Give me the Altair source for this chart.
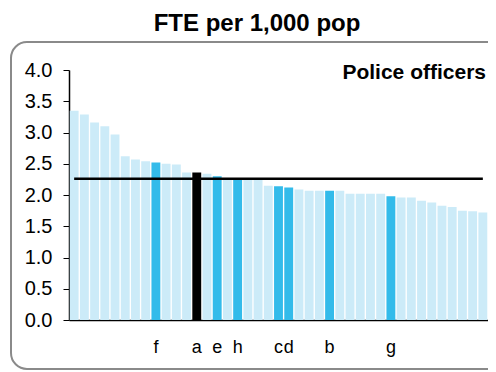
import altair as alt
import pandas as pd

values = [3.35, 3.29, 3.16, 3.10, 2.97, 2.62, 2.57, 2.54, 2.52, 2.50, 2.49,
          2.36, 2.36, 2.34, 2.30, 2.27, 2.27, 2.26, 2.26, 2.15, 2.14, 2.12,
          2.09, 2.07, 2.07, 2.07, 2.07, 2.02, 2.02, 2.02, 2.02, 1.98, 1.96,
          1.96, 1.91, 1.88, 1.83, 1.81, 1.75, 1.74, 1.72]
labels = ["", "", "", "", "", "", "", "", "f", "", "", "", "a", "", "e", "",
          "h", "", "", "", "c", "d", "", "", "", "b", "", "", "", "", "", "g",
          "", "", "", "", "", "", "", "", ""]
groups = ["other"] * 41
for i, l in enumerate(labels):
    if l == "a":
        groups[i] = "self"
    elif l:
        groups[i] = "peer"
average = 2.26
title_text = "FTE per 1,000 pop"
panel_text = "Police officers"
y_ticks = [0, 0.5, 1, 1.5, 2, 2.5, 3, 3.5, 4]

df = pd.DataFrame({
    "idx": list(range(1, len(values) + 1)),
    "value": values,
    "label": labels,
    "group": groups,
    "avg": [average] * len(values),
})

label_expr = "[" + ",".join(f"'{l}'" for l in labels) + "][datum.value - 1]"

x_axis = alt.Axis(labelExpr=label_expr, labelAngle=0, ticks=False,
                  domainColor="black", domainWidth=1.5, labelOverlap=False,
                  labelFont="Liberation Sans", labelFontSize=18,
                  labelColor="black", labelPadding=18)
y_axis = alt.Axis(values=y_ticks, format=".1f", labelOverlap=False,
                  grid=False, tickSize=6, tickColor="black",
                  domainColor="black", domainWidth=1.5,
                  labelFont="Liberation Sans", labelFontSize=20,
                  labelColor="black", labelPadding=11)
x_scale = alt.Scale(paddingInner=0.13, paddingOuter=0.07)
y_scale = alt.Scale(domain=[0, 4])

bars = alt.Chart(df).mark_bar().encode(
    x=alt.X("idx:O", title=None, scale=x_scale, axis=x_axis),
    y=alt.Y("value:Q", title=None, scale=y_scale, axis=y_axis),
    color=alt.Color("group:N", legend=None,
                    scale=alt.Scale(domain=["other", "peer", "self"],
                                    range=["#CCEBF8", "#33BBEA", "#000000"])),
)

line = alt.Chart(df).mark_line(color="black", strokeWidth=2.5).encode(
    x=alt.X("idx:O", title=None, scale=x_scale, axis=x_axis),
    y=alt.Y("avg:Q", title=None, scale=y_scale, axis=y_axis),
)

one = pd.DataFrame({"t": [title_text], "p": [panel_text]})

frame = alt.Chart(one).mark_rect(fill=None, stroke="#8a8a8a", strokeWidth=2,
                                 cornerRadius=16).encode(
    x=alt.value(-58), x2=alt.value(436), y=alt.value(-28), y2=alt.value(299)
)

title = alt.Chart(one).mark_text(font="Liberation Sans", fontSize=24,
                                 fontWeight="bold", align="center",
                                 baseline="alphabetic", color="black").encode(
    text="t:N", x=alt.value(188), y=alt.value(-39)
)

panel = alt.Chart(one).mark_text(font="Liberation Sans", fontSize=21,
                                 fontWeight="bold", align="right",
                                 baseline="alphabetic", color="black").encode(
    text="p:N", x=alt.value(417), y=alt.value(9)
)

chart = alt.layer(frame, bars, line, panel, title).properties(
    width=419, height=250,
    autosize=alt.AutoSizeParams(type="none"),
    padding={"left": 61, "top": 62, "right": 0, "bottom": 52},
).configure_view(stroke=None)

chart.save("out.html", embed_options={"renderer": "svg", "actions": False})
